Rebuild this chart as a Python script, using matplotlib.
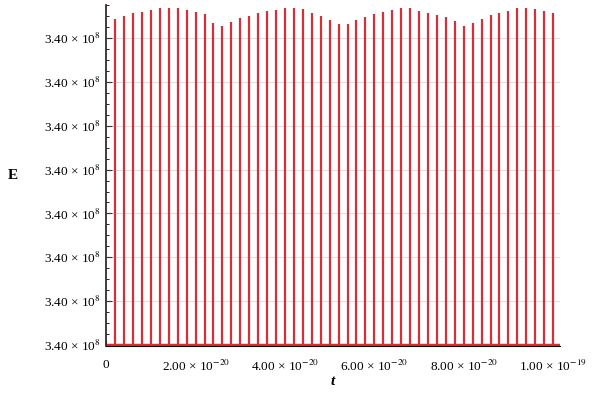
import matplotlib
matplotlib.use("Agg")
import matplotlib.pyplot as plt
from matplotlib.ticker import FixedLocator, MultipleLocator

# sample times (s)
t = [2e-21 * (k + 1) for k in range(50)]
# E offset above 3.40e8 baseline, in arbitrary tiny units (tick spacing = 1)
top_px = [19.3,16,13.3,11.7,9.7,8.3,8.3,8.3,10.3,11.7,14.3,23.3,26.3,22.3,18.3,15.7,12.7,11,9.7,8.3,
          8.3,9.3,13.3,16.3,20.3,24,24,20,17.3,14,11.7,9.7,8.3,8.3,10.7,12.7,14.7,17.3,21.3,26,
          23.3,19.3,15.3,13,11.3,8.3,8.3,9.3,10.7,13.3]
E = [(346 - p) / 44 for p in top_px]
yticks = [0, 1, 2, 3, 4, 5, 6, 7]
ytick_labels = ["3.40 × 10$^{8}$"] * 8
xticks = [0, 2e-20, 4e-20, 6e-20, 8e-20, 1e-19]
xtick_labels = ["0", "2.00 × 10$^{-20}$", "4.00 × 10$^{-20}$", "6.00 × 10$^{-20}$",
                "8.00 × 10$^{-20}$", "1.00 × 10$^{-19}$"]

plt.rcParams['font.family'] = ['Liberation Serif', 'DejaVu Serif']
plt.rcParams['mathtext.fontset'] = 'stix'
fig = plt.figure(figsize=(6, 4), dpi=100)
ax = fig.add_axes([0.177, 0.135, 0.756, 0.8525])
red = '#d62f3a'
ax.vlines(t, 0, E, color=red, lw=1.6)
ax.axhline(0, color=red, lw=2.5)
ax.set_xlim(0, 1.015e-19)
ax.set_ylim(-0.02, 7.75)
ax.yaxis.set_major_locator(FixedLocator(yticks))
ax.set_yticklabels(ytick_labels, fontsize=9.5)
ax.yaxis.set_minor_locator(MultipleLocator(0.25))
ax.xaxis.set_major_locator(FixedLocator(xticks))
ax.set_xticklabels(xtick_labels, fontsize=9.5)
ax.xaxis.set_minor_locator(MultipleLocator(1e-20))
ax.grid(True, axis='y', color='#e0e0e0', lw=0.8)
ax.set_axisbelow(True)
for s in ['top', 'right']:
    ax.spines[s].set_visible(False)
ax.spines['left'].set_linewidth(1.3)
ax.spines['left'].set_color('#3a2a2a')
ax.tick_params(axis='both', direction='in', length=4, color='#333333', pad=4)
ax.tick_params(axis='x', pad=9)
ax.tick_params(which='minor', direction='in', length=2)
ax.set_xlabel('t', fontsize=11, fontweight='bold', fontstyle='italic', labelpad=1)
ax.set_ylabel('E', fontsize=11, fontweight='bold', rotation=0, labelpad=22, va='center')
fig.savefig('out.png', dpi=100)
